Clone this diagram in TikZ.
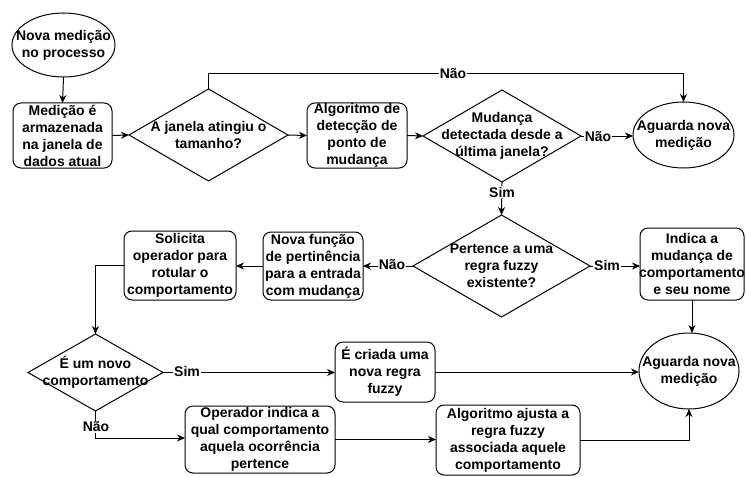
\documentclass[tikz,border=0pt]{standalone}
\usepackage{fontspec}
\setmainfont{Liberation Sans}
\usetikzlibrary{shapes.geometric,arrows.meta}
\begin{document}
\begin{tikzpicture}[x=1pt,y=-1pt,
  base/.style={draw=black,line width=1pt,inner sep=0pt,outer sep=0pt,fill=white},
  box/.style={base,rectangle,rounded corners=8pt},
  dia/.style={base,diamond},
  ell/.style={base,ellipse},
  txt/.style={font=\fontsize{14}{17}\selectfont\bfseries,align=center,inner sep=0pt},
  lbl/.style={font=\fontsize{14}{17}\selectfont\bfseries,fill=white,inner sep=1pt},
  conn/.style={line width=1pt,draw=black},
  arr/.style={conn,-{Stealth[length=8pt,width=7pt,inset=2.5pt]}}]
\useasboundingbox[fill=white] (0,0) rectangle (746,476);

\node[ell,minimum width=103pt,minimum height=64pt,label={[txt]center:Nova medição\\no processo}] (n0) at (63.5,45) {};
\node[box,minimum width=99pt,minimum height=65pt,label={[txt]center:Medição é\\armazenada\\na janela de\\dados atual}] (b1) at (62.5,135.5) {};
\node[dia,minimum width=159pt,minimum height=92pt,label={[txt]center:A janela atingiu o\\tamanho?}] (d1) at (208.5,135) {};
\node[box,minimum width=100pt,minimum height=65pt,label={[txt]center:Algoritmo de\\detecção de\\ponto de\\mudança}] (b2) at (357,135.5) {};
\node[dia,minimum width=158pt,minimum height=92pt,label={[txt]center:Mudança\\detectada desde a\\última janela?}] (d2) at (502,136) {};
\node[ell,minimum width=101pt,minimum height=66pt,label={[txt]center:Aguarda nova\\medição}] (e1) at (683.5,135) {};

\node[dia,minimum width=177pt,minimum height=102pt,label={[txt]center:Pertence a uma\\regra fuzzy\\existente?}] (d3) at (501.5,266) {};
\node[box,minimum width=100pt,minimum height=68pt,label={[txt]center:Nova função\\de pertinência\\para a entrada\\com mudança}] (b3) at (313,266) {};
\node[box,minimum width=112pt,minimum height=69pt,label={[txt]center:Solicita\\operador para\\rotular o\\comportamento}] (b4) at (180,265.5) {};
\node[box,minimum width=104pt,minimum height=72pt,label={[txt]center:Indica a\\mudança de\\comportamento\\e seu nome}] (b5) at (692,264) {};

\node[ell,minimum width=100pt,minimum height=76pt,label={[txt]center:Aguarda nova\\medição}] (e2) at (689,371) {};
\node[dia,minimum width=135pt,minimum height=77pt,label={[txt]center:É um novo\\comportamento}] (d4) at (95.5,372.5) {};
\node[box,minimum width=100pt,minimum height=60pt,label={[txt]center:É criada uma\\nova regra\\fuzzy}] (b6) at (385,372) {};
\node[box,minimum width=150pt,minimum height=67pt,label={[txt]center:Operador indica a\\qual comportamento\\aquela ocorrência\\pertence}] (b7) at (260,439.5) {};
\node[box,minimum width=144pt,minimum height=70pt,label={[txt]center:Algoritmo ajusta a\\regra fuzzy\\associada aquele\\comportamento}] (b8) at (508,440) {};

\coordinate (topy) at (0,74);
\coordinate (noy) at (0,438);

\draw[arr] (n0.south) -- (b1.north);
\draw[arr] (b1.east) -- (d1.west);
\draw[arr] (d1.north) -- (d1.north |- topy) -| (e1.north);
\draw[arr] (d1.east) -- (b2.west);
\draw[arr] (b2.east) -- (d2.west);
\draw[arr] (d2.east) -- (d2.east -| e1.west);
\draw[arr] (d2.south) -- (d3.north);
\draw[arr] (d3.west) -- (d3.west -| b3.east);
\draw[arr] (d3.east) -- (d3.east -| b5.west);
\draw[arr] (b3.west) -- (b3.west -| b4.east);
\draw[arr] (b4.west) -| (d4.north);
\draw[arr] (d4.east) -- (d4.east -| b6.west);
\draw[arr] (b6.east) -- (b6.east -| e2.west);
\draw[arr] (b5.south) -- (b5.south |- e2.north);
\draw[arr] (d4.south) -- (d4.south |- noy) -- (noy -| b7.west);
\draw[arr] (b7.east) -- (b7.east -| b8.west);
\draw[arr] (b8.east) -| (e2.south);

\node[lbl] (l1) at (453,74) {Não};
\node[lbl] (l2) at (598,137) {Não};
\node[lbl] (l3) at (502,192) {Sim};
\node[lbl] (l4) at (392,265) {Não};
\node[lbl] (l5) at (607,265) {Sim};
\node[lbl] (l6) at (187,371) {Sim};
\node[lbl] (l7) at (96,427) {Não};
\end{tikzpicture}
\end{document}
